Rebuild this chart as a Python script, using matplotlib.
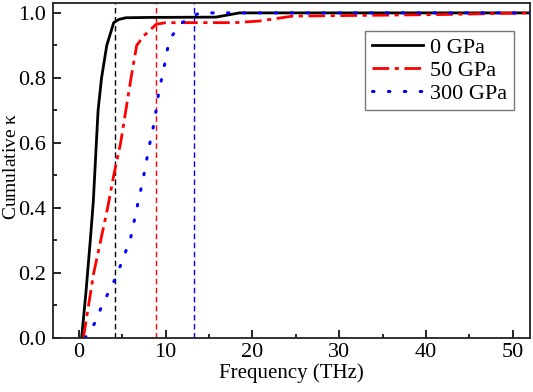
import matplotlib
matplotlib.use("Agg")
import matplotlib.pyplot as plt
from matplotlib.ticker import MultipleLocator

plt.rcParams['font.family'] = ['Liberation Serif', 'DejaVu Serif']
plt.rcParams['mathtext.fontset'] = 'stix'

# cumulative thermal conductivity vs frequency
freq_0 = [0.3, 0.8, 1.3, 1.65, 2.0, 2.2, 2.6, 3.2, 4.0, 4.6, 5.4, 8.0, 15.8, 18.5, 52.0]
kappa_0 = [0.0, 0.14, 0.3, 0.42, 0.6, 0.7, 0.8, 0.9, 0.97, 0.98, 0.985, 0.986, 0.987, 1.0, 1.0]

freq_50 = [0.5, 1.7, 3.3, 4.0, 4.8, 6.0, 6.65, 7.5, 8.9, 10.0, 18.0, 20.8, 24.6, 42.0, 52.0]
kappa_50 = [0.0, 0.2, 0.4, 0.5, 0.6, 0.8, 0.9, 0.93, 0.965, 0.97, 0.97, 0.975, 0.99, 0.995, 1.0]

freq_300 = [0.7, 1.85, 2.5, 3.3, 4.1, 4.8, 5.4, 6.0, 6.7, 7.4, 8.0, 8.7, 9.2, 9.9,
            10.2, 10.8, 11.8, 13.0, 14.0, 52.0]
kappa_300 = [0.0, 0.047, 0.09, 0.135, 0.178, 0.224, 0.267, 0.313, 0.403, 0.49, 0.577,
             0.667, 0.756, 0.845, 0.889, 0.932, 0.968, 0.99, 1.0, 1.0]

cutoffs = [4.15, 8.9, 13.3]
cutoff_colors = ['black', 'red', 'blue']

fig = plt.figure(figsize=(5.33, 3.92), dpi=100)
ax = fig.add_axes([0.0994, 0.1378, 0.895, 0.8542])

for xc, c in zip(cutoffs, cutoff_colors):
    ax.axvline(xc, color=c, lw=1.0, ls=(0, (4, 2.5)))

ax.plot(freq_0, kappa_0, color='black', lw=2, label='0 GPa')
ax.plot(freq_50, kappa_50, color='red', lw=2, ls=(0, (6, 2, 1.5, 2)), label='50 GPa')
ax.plot(freq_300, kappa_300, color='blue', lw=2.2, ls=(0, (0.5, 4.7)),
        dash_capstyle='round', label='300 GPa')

ax.set_xlim(-3, 52)
ax.set_ylim(0, 1.03)
ax.xaxis.set_major_locator(MultipleLocator(10))
ax.xaxis.set_minor_locator(MultipleLocator(5))
ax.yaxis.set_major_locator(MultipleLocator(0.2))
ax.yaxis.set_minor_locator(MultipleLocator(0.1))
ax.tick_params(which='both', direction='in', top=False, right=False, labelsize=16, width=1.2)
ax.tick_params(which='major', length=6)
ax.tick_params(which='minor', length=3)
ax.tick_params(axis='y', pad=5)
for s in ax.spines.values():
    s.set_linewidth(1.3)
    s.set_color('#222222')

ax.set_xlabel('Frequency (THz)', fontsize=15, labelpad=1)
ax.set_ylabel(r'Cumulative $\mathregular{\kappa}$', fontsize=14)
ax.yaxis.set_label_coords(-0.07, 0.513)

leg = ax.legend(loc='upper right', bbox_to_anchor=(0.975, 0.93), fontsize=16, fancybox=False,
                edgecolor='#555555', handlelength=2.3, borderpad=0.3, labelspacing=0.1,
                handletextpad=0.3, borderaxespad=0.2)
leg.get_frame().set_linewidth(1.0)

fig.savefig('out.png', dpi=100)
